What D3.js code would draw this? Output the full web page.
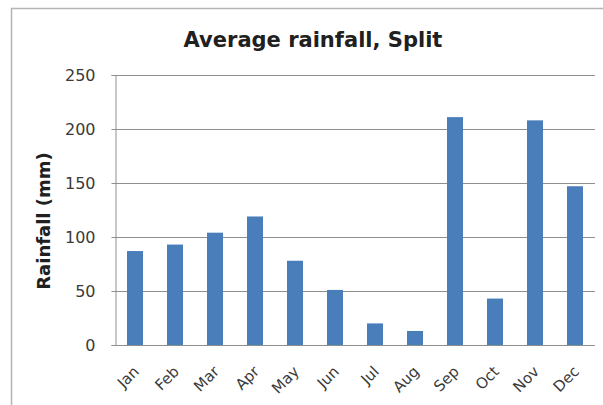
<!DOCTYPE html>
<html><head><meta charset="utf-8">
<script src="https://cdn.jsdelivr.net/npm/d3@7"></script>
<style>
html,body{margin:0;padding:0;background:#fff;}
svg{display:block;}
svg text{font-family:"DejaVu Sans",sans-serif;}
</style></head>
<body>
<svg id="chart" width="603" height="405"></svg>
<script>
const months = ["Jan","Feb","Mar","Apr","May","Jun","Jul","Aug","Sep","Oct","Nov","Dec"];
const rainfall = [87, 93, 104, 119, 78, 51, 20, 13, 211, 43, 208, 147];
const yTicks = [0, 50, 100, 150, 200, 250];
const titleText = "Average rainfall, Split";
const yLabel = "Rainfall (mm)";

const svg = d3.select("#chart");
const m = {left:115, right:595, top:75, bottom:345};

// outer frame
svg.append("path").attr("d","M11.5,405 V8.5 H603").attr("fill","none").attr("stroke","#b4b4b4").attr("stroke-width",1.5);

const x = d3.scaleBand().domain(months).range([m.left, m.right]).paddingInner(0.6).paddingOuter(0.3);
const y = d3.scaleLinear().domain([0,250]).range([m.bottom, m.top]);

// gridlines
svg.append("g").selectAll("line").data(yTicks.filter(d=>d>0)).join("line")
  .attr("x1", m.left).attr("x2", m.right)
  .attr("y1", d=>Math.round(y(d))+0.5).attr("y2", d=>Math.round(y(d))+0.5)
  .attr("stroke","#8f8f8f").attr("stroke-width",1);

// y axis
const yAxis = svg.append("g").attr("transform",`translate(${m.left+0.5},0)`)
  .call(d3.axisLeft(y).tickValues(yTicks).tickSize(4).tickPadding(16));
yAxis.attr("font-family",null);
yAxis.select(".domain").attr("stroke","#8f8f8f");
yAxis.selectAll(".tick line").attr("stroke","#8f8f8f");
yAxis.selectAll("text").attr("font-size",16).attr("fill","#3a3a3a");

// bars
svg.append("g").selectAll("rect").data(months).join("rect")
  .attr("x", d=>x(d)).attr("width", x.bandwidth())
  .attr("y", (d,i)=>y(rainfall[i])).attr("height",(d,i)=>y(0)-y(rainfall[i]))
  .attr("fill","#4a7ebb");

// x axis
const xAxis = svg.append("g").attr("transform",`translate(0,${m.bottom+0.5})`)
  .call(d3.axisBottom(x).tickSize(0).tickPadding(0));
xAxis.attr("font-family",null);
xAxis.select(".domain").attr("stroke","#8f8f8f").attr("d",`M${m.left},0H${m.right}`);
xAxis.selectAll("text")
  .attr("font-size",15).attr("fill","#3a3a3a")
  .attr("text-anchor","end").attr("dy",null).attr("y",0)
  .attr("transform","translate(5,27) rotate(-45)");

// title
svg.append("text").attr("x",313).attr("y",47).attr("text-anchor","middle")
  .attr("font-size",21).attr("font-weight","bold").attr("fill","#202020").text(titleText);

// y label
svg.append("text").attr("transform","translate(50,221) rotate(-90)").attr("text-anchor","middle")
  .attr("font-size",18).attr("font-weight","bold").attr("fill","#202020").text(yLabel);
</script>
</body></html>
